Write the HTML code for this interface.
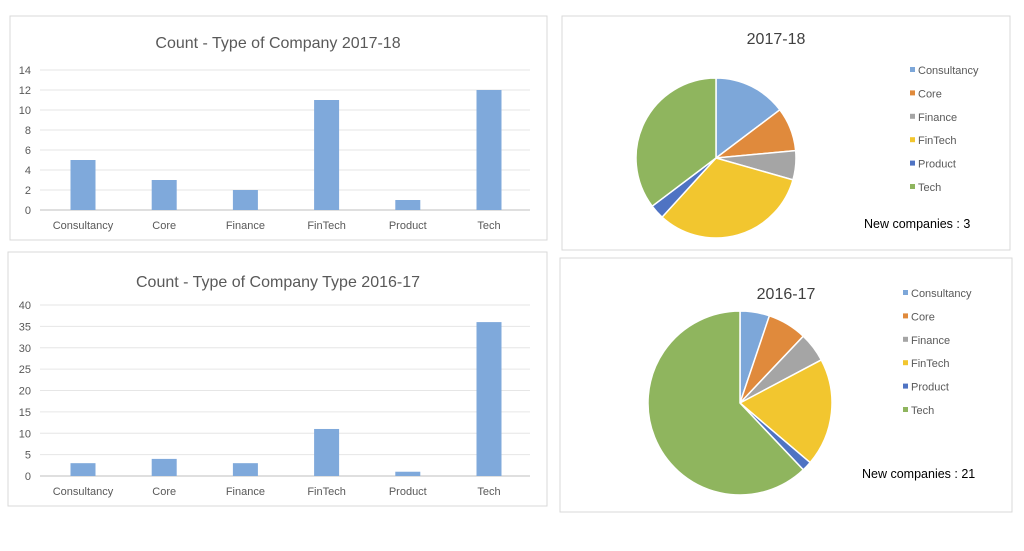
<!DOCTYPE html>
<html><head><meta charset="utf-8"><style>
body{margin:0;background:#fff;width:1024px;height:551px;overflow:hidden;font-family:"Liberation Sans",sans-serif}
svg{display:block}
</style></head><body>
<svg id="s" width="1024" height="551">
<rect x="10" y="16" width="537" height="224" fill="#fff" stroke="#d9d9d9"/>
<rect x="8" y="252" width="539" height="254" fill="#fff" stroke="#d9d9d9"/>
<rect x="562" y="16" width="448" height="234" fill="#fff" stroke="#d9d9d9"/>
<rect x="560" y="258" width="452" height="254" fill="#fff" stroke="#d9d9d9"/>
</svg>
<script>
const categories=["Consultancy","Core","Finance","FinTech","Product","Tech"];
const values1718=[5,3,2,11,1,12];
const values1617=[3,4,3,11,1,36];
const ticks1718=[0,2,4,6,8,10,12,14];
const ticks1617=[0,5,10,15,20,25,30,35,40];
const pieColors=["#7DA7D9","#E08A3C","#A5A5A5","#F2C62F","#4F73C3","#8FB55E"];
const S=document.getElementById('s');const NS="http://www.w3.org/2000/svg";
function mk(t,a,txt){const e=document.createElementNS(NS,t);for(const k in a)e.setAttribute(k,a[k]);if(txt!=null)e.textContent=txt;S.appendChild(e);return e;}
function bar(title,ty,vals,ticks,y0,y1,ly,nm){
  let t=mk('text',{x:278,y:ty,'text-anchor':'middle','font-size':16,fill:'#595959'},title);
  
  const max=ticks[ticks.length-1];const y=v=>y0-(v/max)*(y0-y1);
  ticks.forEach(v=>{let l=mk('line',{x1:40,x2:530,y1:y(v),y2:y(v),stroke:v===0?'#bfbfbf':'#e6e6e6'});
    
    let tx=mk('text',{x:31,y:y(v)+4,'text-anchor':'end','font-size':11,fill:'#595959'},v);
    });
  const x=i=>83+i*81.2;
  vals.forEach((v,i)=>{let r=mk('rect',{x:x(i)-12.5,y:y(v),width:25,height:y0-y(v),fill:'#7FA9DB'});
    
    let tx=mk('text',{x:x(i),y:ly,'text-anchor':'middle','font-size':11,fill:'#595959'},categories[i]);
    });
}
bar("Count - Type of Company 2017-18",48,values1718,ticks1718,210,70,229,'bar-2017');
bar("Count - Type of Company Type 2016-17",287,values1617,ticks1617,476,305,495,'bar-2016');
function pie(title,tx,ty,cx,cy,r,vals,lx,ly,note,nx,nyy,nm){
  let t=mk('text',{x:tx,y:ty,'text-anchor':'middle','font-size':16,fill:'#404040'},title);
  
  const sum=vals.reduce((a,b)=>a+b,0);let a=-Math.PI/2;
  vals.forEach((v,i)=>{const b=a+v/sum*2*Math.PI;
    const x1=cx+r*Math.cos(a),y1=cy+r*Math.sin(a),x2=cx+r*Math.cos(b),y2=cy+r*Math.sin(b);
    let p=mk('path',{d:`M${cx},${cy}L${x1},${y1}A${r},${r} 0 ${b-a>Math.PI?1:0} 1 ${x2},${y2}Z`,fill:pieColors[i],stroke:'#fff','stroke-width':1.5});
    
    a=b;
    let s=mk('rect',{x:lx,y:ly+i*23.4-7,width:5,height:5,fill:pieColors[i]});
    
    let l=mk('text',{x:lx+8,y:ly+i*23.4,'font-size':11,fill:'#595959'},categories[i]);
    });
  let n=mk('text',{x:nx,y:nyy,'font-size':12.5,fill:'#000'},note);
  
}
pie("2017-18",776,44,716,158,80,values1718,910,74,"New companies  :  3",864,228,'pie-2017');
pie("2016-17",786,299,740,403,92,values1617,903,297,"New companies  : 21",862,478,'pie-2016');
</script>
</body></html>
